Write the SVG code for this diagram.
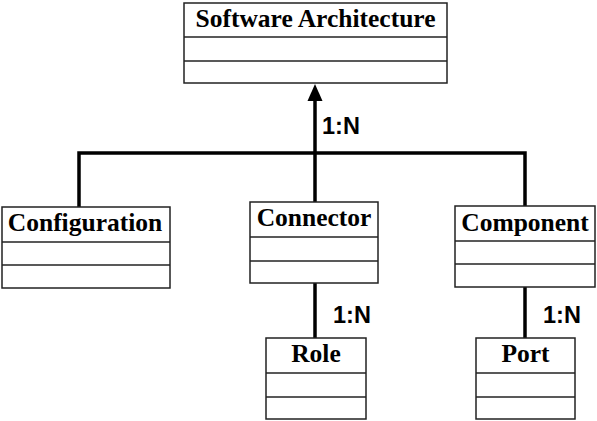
<svg xmlns="http://www.w3.org/2000/svg" width="597" height="421" viewBox="0 0 597 421">
<style>
.box{fill:#fff;stroke:#222;stroke-width:1.5}
.div{stroke:#222;stroke-width:1.5}
.title{font-family:"Liberation Serif",serif;font-weight:bold;font-size:25.5px;fill:#000;text-anchor:middle}
.lbl{font-family:"Liberation Sans",Arial,sans-serif;font-weight:bold;font-size:23.5px;fill:#000}
.conn{stroke:#000;stroke-width:3.5;fill:none}
</style>
<rect width="597" height="421" fill="#fff"/>
<g id="connectors">
<path class="conn" d="M315,99 V202"/>
<path class="conn" d="M79,207 V153 H525 V206"/>
<path class="conn" d="M315,283 V338"/>
<path class="conn" d="M525,287 V338"/>
<polygon points="315,84 307.5,101 322.5,101" fill="#000"/>
<text class="lbl" x="322" y="134">1:N</text>
<text class="lbl" x="333" y="323">1:N</text>
<text class="lbl" x="543" y="323">1:N</text>
</g>
<g id="software-architecture">
<rect class="box" x="184" y="3" width="263" height="80"/>
<line class="div" x1="184" y1="37" x2="447" y2="37"/>
<line class="div" x1="184" y1="61" x2="447" y2="61"/>
<text class="title" x="315.5" y="27">Software Architecture</text>
</g>
<g id="configuration">
<rect class="box" x="2" y="207" width="168" height="81"/>
<line class="div" x1="2" y1="242" x2="170" y2="242"/>
<line class="div" x1="2" y1="265" x2="170" y2="265"/>
<text class="title" x="85" y="231">Configuration</text>
</g>
<g id="connector">
<rect class="box" x="250" y="202" width="128" height="81"/>
<line class="div" x1="250" y1="237" x2="378" y2="237"/>
<line class="div" x1="250" y1="261" x2="378" y2="261"/>
<text class="title" x="314" y="226">Connector</text>
</g>
<g id="component">
<rect class="box" x="455" y="206" width="140" height="81"/>
<line class="div" x1="455" y1="241" x2="595" y2="241"/>
<line class="div" x1="455" y1="264" x2="595" y2="264"/>
<text class="title" x="525" y="231">Component</text>
</g>
<g id="role">
<rect class="box" x="266" y="338" width="100" height="81"/>
<line class="div" x1="266" y1="373" x2="366" y2="373"/>
<line class="div" x1="266" y1="397" x2="366" y2="397"/>
<text class="title" x="316" y="362">Role</text>
</g>
<g id="port">
<rect class="box" x="476" y="338" width="99" height="81"/>
<line class="div" x1="476" y1="373" x2="575" y2="373"/>
<line class="div" x1="476" y1="397" x2="575" y2="397"/>
<text class="title" x="525.5" y="362">Port</text>
</g>
</svg>
